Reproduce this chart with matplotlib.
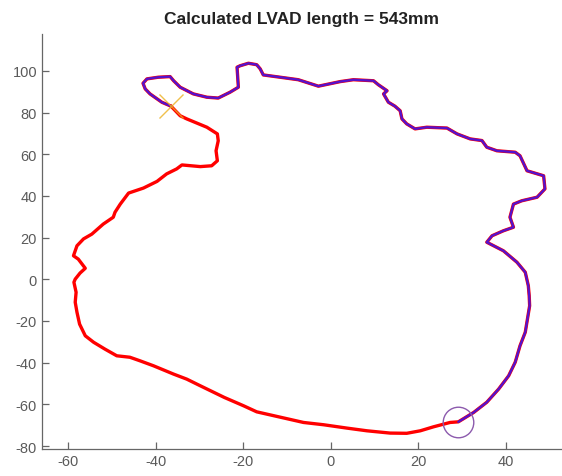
import numpy as np
import matplotlib
matplotlib.use('Agg')
import matplotlib.pyplot as plt

plt.rcParams['font.family'] = ['Liberation Sans', 'DejaVu Sans']
plt.rcParams['axes.unicode_minus'] = False

# red part: from the cross, down the left side, round the bottom to the circle
red_x = [-36.5, -34.4, -32.9, -28.3, -25.9, -25.7, -26.2, -25.9, -27.2, -29.8,
         -34.0, -35.2, -37.5, -39.7, -42.8, -46.2, -48.1, -49.3, -49.7, -52.0,
         -54.6, -56.5, -58.0, -58.8, -57.7, -56.1, -57.3, -58.4, -58.7, -58.2,
         -58.4, -58.0, -57.4, -56.1, -54.2, -51.6, -48.9, -45.9, -43.6, -40.5,
         -35.9, -32.9, -29.8, -24.3, -19.9, -16.9, -12.3, -6.2, -1.6, 3.7,
         8.3, 13.6, 17.4, 20.5, 23.5, 27.3, 29.2]
red_y = [83.1, 78.5, 77.0, 73.0, 69.8, 66.5, 61.7, 56.9, 54.5, 54.1,
         54.9, 53.0, 50.6, 47.0, 43.8, 41.4, 36.1, 32.2, 29.8, 26.5,
         21.7, 19.4, 16.1, 11.3, 9.7, 5.3, 3.0, 0.1, -1.4, -6.2,
         -11.0, -15.8, -21.5, -27.1, -30.2, -33.5, -36.7, -37.4, -39.1, -41.5,
         -45.5, -47.9, -51.1, -56.7, -60.7, -63.6, -65.8, -68.7, -69.8, -71.4,
         -72.7, -73.8, -73.9, -72.7, -70.8, -68.7, -68.4]

# purple part: from the circle, up the right side, across the top back to the cross
pur_x = [29.2, 32.7, 35.7, 38.4, 40.7, 42.2, 43.3, 44.5, 45.0, 45.5,
         45.4, 45.2, 44.5, 42.6, 39.5, 35.7, 36.9, 39.5, 41.8, 41.0,
         41.8, 43.7, 47.2, 49.0, 48.7, 44.9, 43.3, 42.2, 38.0, 35.7,
         34.6, 31.9, 28.9, 26.6, 22.0, 19.3, 17.4, 16.3, 15.9, 14.7,
         13.2, 12.1, 12.9, 10.9, 9.8, 5.2, 2.2, -2.8, -7.4, -11.5,
         -15.4, -16.1, -16.9, -18.8, -20.7, -21.4, -21.1, -23.0, -25.7, -28.3,
         -31.4, -34.4, -35.9, -36.7, -39.4, -42.0, -42.9, -42.4, -41.3, -38.6,
         -36.5]
pur_y = [-68.4, -63.9, -59.0, -52.7, -46.3, -39.8, -31.9, -25.4, -19.1, -12.7,
         -7.9, -3.1, 3.4, 8.2, 13.7, 17.8, 20.9, 23.3, 25.0, 29.8,
         36.1, 37.7, 39.4, 43.4, 49.7, 52.1, 59.3, 61.0, 61.7, 63.4,
         66.6, 67.4, 69.8, 72.6, 73.0, 72.2, 74.6, 77.0, 80.9, 83.1,
         85.0, 89.0, 90.5, 93.4, 95.3, 95.8, 94.9, 92.7, 95.8, 97.0,
         98.1, 101.0, 103.0, 103.7, 102.5, 101.8, 92.2, 89.8, 87.0, 87.4,
         89.0, 92.2, 95.3, 97.3, 97.0, 96.2, 94.1, 91.4, 89.0, 85.0,
         83.1]

cross = (-36.5, 83.1)
circle = (29.2, -68.4)
length_mm = 543

fig = plt.figure(figsize=(5.62, 4.77), dpi=100)
ax = fig.add_axes([0.0747, 0.0572, 0.9253, 0.8688])

ax.plot(red_x + pur_x, red_y + pur_y, color='#ff0000', lw=2.4,
        solid_capstyle='round', solid_joinstyle='round')
ax.plot(pur_x, pur_y, color='#5512cc', lw=1.7,
        solid_capstyle='round', solid_joinstyle='round')
ax.plot(*cross, marker='x', ms=17, mew=1.0, color='#EDB120', alpha=0.8)
ax.plot(*circle, marker='o', ms=22, mew=1.0, mfc='none', mec='#8c5aad')

ax.set_xlim(-66.0, 52.9)
ax.set_ylim(-81.3, 117.6)
ax.set_xticks(np.arange(-60, 41, 20))
ax.set_yticks(np.arange(-80, 101, 20))
for s in ['top', 'right']:
    ax.spines[s].set_visible(False)
for s in ['left', 'bottom']:
    ax.spines[s].set_color('#666666')
    ax.spines[s].set_linewidth(0.9)
ax.tick_params(direction='in', length=5, width=0.9, colors='#666666',
               labelsize=10.5, labelcolor='#5a5a5a')
ax.set_title('Calculated LVAD length = %dmm' % length_mm, fontsize=12.5,
             fontweight='bold', color='#222222', pad=8)

fig.savefig('out.png', dpi=100)
